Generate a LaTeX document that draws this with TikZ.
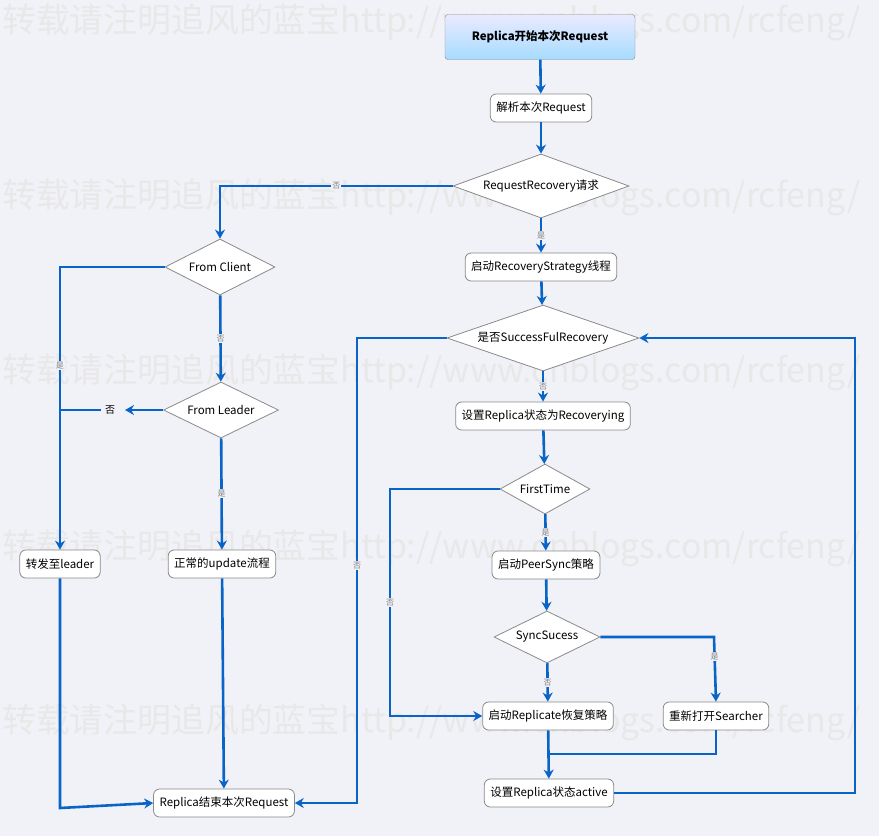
\documentclass[tikz,border=0pt]{standalone}
\usepackage{fontspec}
\setmainfont{Noto Sans CJK SC}
\usetikzlibrary{shapes.geometric,arrows.meta}
\definecolor{bg}{HTML}{F1F2F7}
\definecolor{ln}{HTML}{0A64C8}
\definecolor{bd}{HTML}{8A8A8A}
\tikzset{
 box/.style={draw=bd,fill=white,rounded corners=6pt,minimum height=28pt,inner xsep=6pt,font=\fontsize{11.5}{13}\selectfont,line width=0.8pt},
 dia/.style={draw=bd,fill=white,diamond,aspect=2.6,inner sep=1pt,font=\fontsize{11.5}{13}\selectfont,line width=0.8pt},
 flow/.style={draw=ln,line width=2.6pt,-{Stealth[length=9pt,width=10pt]}},
 plain/.style={draw=ln,line width=2.6pt},
 lab/.style={fill=bg,inner sep=1pt,text=gray,font=\fontsize{8}{9}\selectfont},
 wm/.style={text=gray!18,anchor=west,inner sep=0pt},
}
\begin{document}
\begin{tikzpicture}[x=1pt,y=-1pt]
\fill[bg] (0,0) rectangle (879,836);
\useasboundingbox (0,0) rectangle (879,836);
\foreach \yy in {22,197,372,548,722}
 \node[wm] at (2,\yy) {\resizebox{858pt}{!}{转载请注明追风的蓝宝http://www.cnblogs.com/rcfeng/}};
% nodes
\node[draw=bd,rounded corners=3pt,top color=blue!8,bottom color=blue!40!cyan!35,minimum width=190pt,minimum height=45pt,font=\bfseries\fontsize{11.5}{13}\selectfont] (start) at (540,37) {Replica开始本次Request};
\node[box] (parse) at (541,108) {解析本次Request};
\node[dia,minimum width=176pt,minimum height=64pt] (rr) at (541,186) {RequestRecovery请求};
\node[box] (rs) at (541,267) {启动RecoveryStrategy线程};
\node[dia,minimum width=192pt,minimum height=66pt] (sfr) at (543,338) {是否SuccessFulRecovery};
\node[box] (rec) at (543,416) {设置Replica状态为Recoverying};
\node[dia,minimum width=90pt,minimum height=50pt] (ft) at (545,489) {FirstTime};
\node[box] (ps) at (546,565) {启动PeerSync策略};
\node[dia,minimum width=106pt,minimum height=52pt] (ss) at (547,637) {SyncSucess};
\node[box] (rep) at (548,716) {启动Replicate恢复策略};
\node[box] (sea) at (716,716) {重新打开Searcher};
\node[box] (act) at (549,793) {设置Replica状态active};
\node[dia,minimum width=110pt,minimum height=56pt] (fc) at (220,267) {From Client};
\node[dia,minimum width=115pt,minimum height=56pt] (fl) at (221,410) {From Leader};
\node[box] (fwd) at (60,564) {转发至leader};
\node[box] (upd) at (222,564) {正常的update流程};
\node[box] (end) at (224,803) {Replica结束本次Request};
% edges
\draw[flow] (start) -- (parse);
\draw[flow] (parse) -- (rr);
\draw[flow] (rr.west) -- node[lab]{否} (220,186) -- (fc.north);
\draw[flow] (rr) -- node[lab]{是} (rs);
\draw[flow] (rs) -- (sfr);
\draw[flow] (sfr.west) -- (357,338) -- node[lab,pos=0.49]{否} (357,803) -- (end.east);
\draw[flow] (sfr) -- node[lab]{否} (rec);
\draw[flow] (rec) -- (ft);
\draw[flow] (ft.west) -- (390,489) -- node[lab]{否} (390,716) -- (rep.west);
\draw[flow] (ft) -- node[lab]{是} (ps);
\draw[flow] (ps) -- (ss);
\draw[flow] (ss) -- node[lab]{否} (rep);
\draw[flow] (ss.east) -- (714,637) -- node[lab,pos=0.3]{是} (sea.north);
\coordinate (j) at (548,754);
\draw[plain] (sea.south) -- (716,754) -- (j);
\draw[flow] (rep) -- (act);
\draw[flow] (act.east) -- (855,793) -- (855,338) -- (sfr.east);
\draw[flow] (fc.west) -- (60,267) -- node[lab,pos=0.35]{是} (fwd.north);
\draw[flow] (fc) -- node[lab]{否} (fl);
\coordinate (nt) at (125,410);
\coordinate (nl) at (60,410);
\draw[flow] (fl.west) -- (nt);
\node[font=\fontsize{10}{12}\selectfont] (no) at (110,410) {否};
\draw[plain] (no.west) -- (nl);
\draw[flow] (fl) -- node[lab]{是} (upd);
\draw[flow] (fwd.south) -- (60,808) -- (end.west);
\draw[flow] (upd) -- (end);
\end{tikzpicture}
\end{document}
